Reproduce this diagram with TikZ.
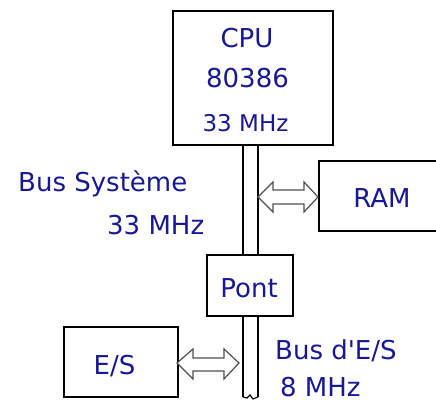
\documentclass[tikz,border=0pt]{standalone}
\usepackage{fontspec}
\setmainfont{DejaVu Sans}
\definecolor{txtblue}{RGB}{24,24,150}
\definecolor{arrgray}{RGB}{80,80,80}
\begin{document}
\begin{tikzpicture}[x=1pt,y=1pt,
  box/.style={draw=black,line width=1.7pt,fill=white},
  lbl/.style={inner sep=0pt,text=txtblue,font=\fontsize{26}{30}\selectfont},
  smalllbl/.style={inner sep=0pt,text=txtblue,font=\fontsize{23}{27}\selectfont},
  busline/.style={draw=black,line width=1.7pt},
  blockarrow/.style={draw=arrgray,line width=1.2pt,fill=white,line join=miter}]
\useasboundingbox (0,0) rectangle (436,403);
\clip (0,0) rectangle (436,403);
% boxes
\node[box,minimum width=160pt,minimum height=134pt,anchor=south west] (cpu) at (172,257) {};
\node[box,minimum width=130pt,minimum height=70pt,anchor=south west] (ram) at (318,171) {};
\node[box,minimum width=86pt,minimum height=61pt,anchor=south west] (pont) at (206,86) {};
\node[box,minimum width=114pt,minimum height=70pt,anchor=south west] (es) at (63,5) {};
% bus coordinates
\coordinate (busTL) at (243,257);
\coordinate (busTR) at (258,257);
\coordinate (busML) at (243,147);
\coordinate (busMR) at (258,147);
\coordinate (busBL) at (243,86);
\coordinate (busBR) at (258,86);
\coordinate (busEL) at (243,6);
\coordinate (busER) at (258,6);
\draw[busline] (busTL) -- (busML) (busTR) -- (busMR);
\draw[busline] (busBL) -- (busEL) (busBR) -- (busER);
\draw[black,line width=1.2pt] (busEL) -- (247,5) -- (250,8) -- (253,4) -- (busER);
% block arrow bus <-> RAM
\draw[blockarrow] (258,206) -- (273,221) -- (273,213) -- (304,213) -- (304,221) -- (318,206)
  -- (304,191) -- (304,199) -- (273,199) -- (273,191) -- cycle;
% block arrow E/S <-> bus
\draw[blockarrow] (177,40) -- (193,54) -- (193,45) -- (224,45) -- (224,54) -- (239,40)
  -- (224,24) -- (224,32) -- (193,32) -- (193,24) -- cycle;
% texts
\node[lbl,anchor=base] (cputitle) at (247,355) {CPU};
\node[lbl,anchor=base] (cpumodel) at (247.5,315) {80386};
\node[smalllbl,anchor=base] (cpufreq) at (245.5,271) {33 MHz};
\node[lbl,anchor=base west] (sysbus) at (18,211) {Bus Système};
\node[lbl,anchor=base west] (sysfreq) at (107,168) {33 MHz};
\node[lbl,anchor=base] (ramtxt) at (382,195) {RAM};
\node[lbl,anchor=base] (ponttxt) at (249,105) {Pont};
\node[lbl,anchor=base] (estxt) at (114.5,28) {E/S};
\node[lbl,anchor=base west] (iobus) at (275,43) {Bus d\textquotesingle E/S};
\node[lbl,anchor=base west] (iofreq) at (280,6) {8 MHz};
\end{tikzpicture}
\end{document}
